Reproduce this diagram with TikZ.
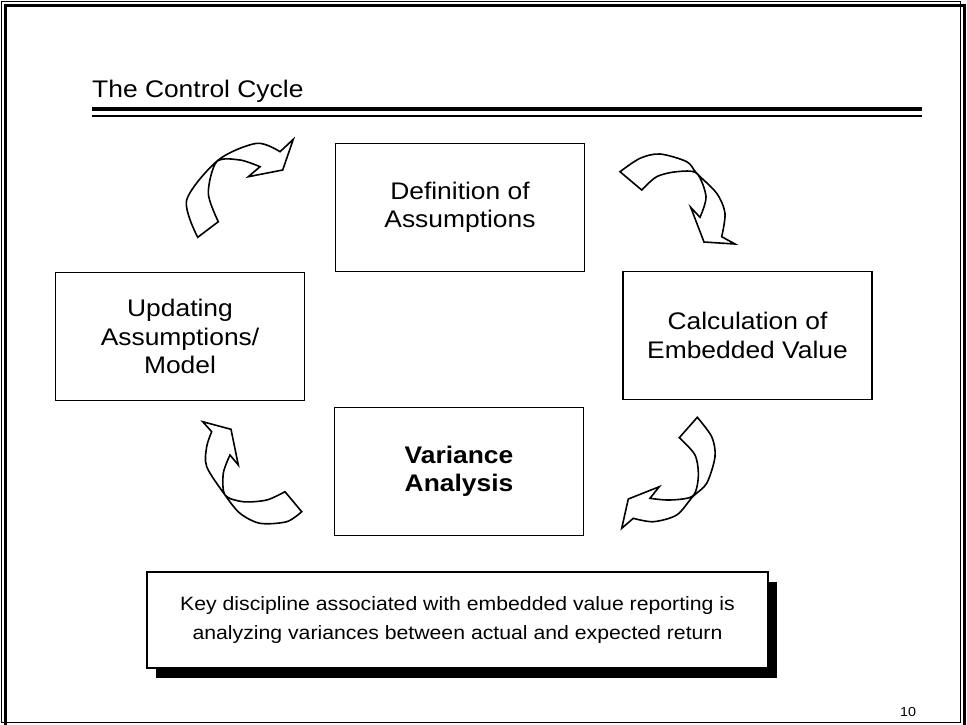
\documentclass[tikz,border=0pt]{standalone}
\usepackage{fontspec}
\setmainfont{Liberation Sans}[FakeStretch=1.1]
\usetikzlibrary{shadows}
\tikzset{
  cyclebox/.style={draw, line width=1.4pt, minimum width=249pt, minimum height=128pt, align=center, font=\fontsize{24}{28.5}\selectfont},
  turn/.style={draw, line width=1.6pt, fill=white, line join=miter},
}
\begin{document}
\begin{tikzpicture}[x=1pt, y=-1pt]
\useasboundingbox (0,0) rectangle (967,724);
\draw[line width=1pt] (1,1) rectangle (960,722);
\draw[line width=3pt] (5,5) rectangle (964,727);
\node[anchor=base west, inner sep=0pt, font=\fontsize{24}{28}\selectfont] (title) at (92,97) {The Control Cycle};
\draw[line width=3.5pt] (92,109) -- (922,109);
\draw[line width=1.5pt] (92,116) -- (922,116);
\node[cyclebox] (define) at (460,207.5) {Definition of\\Assumptions};
\node[cyclebox] (update) at (180,336.5) {Updating\\Assumptions/\\Model};
\node[cyclebox] (calc) at (747.5,335.5) {Calculation of\\Embedded Value};
\node[cyclebox, font=\fontsize{24}{28.5}\selectfont\bfseries] (variance) at (459,471.5) {Variance\\Analysis};
\draw[turn] plot[smooth] coordinates {(197.7,237.3) (186.7,200) (218.3,160) (256.7,143.3) (280,151.7)} -- (293.3,139.3) -- (282.7,170) -- (248.3,176.7) -- (260,166.7) -- plot[smooth] coordinates {(260,166.7) (240,160) (216.7,161.7) (208.3,193.3) (218.3,221.7)} -- cycle;
\draw[turn] plot[smooth] coordinates {(620,171.7) (640,158.3) (660,154) (686.7,161.7) (696.7,173.3) (716.7,193.3) (725,213.3) (721.7,236.7)} -- (735,244) -- (704,242) -- (690.7,207.3) -- (700,217.3) -- plot[smooth] coordinates {(700,217.3) (706,196.7) (696.7,173.3) (676.7,171.7) (656.7,176.7) (641.7,190)} -- cycle;
\draw[turn] plot[smooth] coordinates {(697.3,417.3) (711.7,436.7) (715,456.7) (706.7,483.3) (692.7,496.7) (676.7,515) (653.3,521.7) (633.3,518.3)} -- (621.7,528.3) -- (628.3,499) -- (659.3,486.7) -- (650,498.3) -- plot[smooth] coordinates {(650,498.3) (670,500) (692.7,496) (698.3,476.7) (695,455) (679.3,437.7)} -- cycle;
\draw[turn] plot[smooth] coordinates {(301.7,511.7) (286.7,521.7) (260,523.3) (240,513.3) (225,495) (206.7,466.7) (206.7,446.7) (211.7,431.7)} -- (202.7,421.7) -- (231,429.3) -- (238.3,465) -- (230,455) -- plot[smooth] coordinates {(230,455) (223.3,473.3) (225,495) (243.3,501.7) (266.7,500) (285,491.7)} -- cycle;
\node[draw, line width=1.4pt, fill=white, minimum width=621pt, minimum height=96pt, align=center,
  drop shadow={shadow xshift=9pt, shadow yshift=-10pt, fill=black, opacity=1},
  font=\fontsize{19.3}{29}\selectfont] (note) at (457.5,620) {Key discipline associated with embedded value reporting is\\analyzing variances between actual and expected return};
\node[font=\fontsize{13}{15}\selectfont] (page) at (908,712) {10};
\end{tikzpicture}
\end{document}
